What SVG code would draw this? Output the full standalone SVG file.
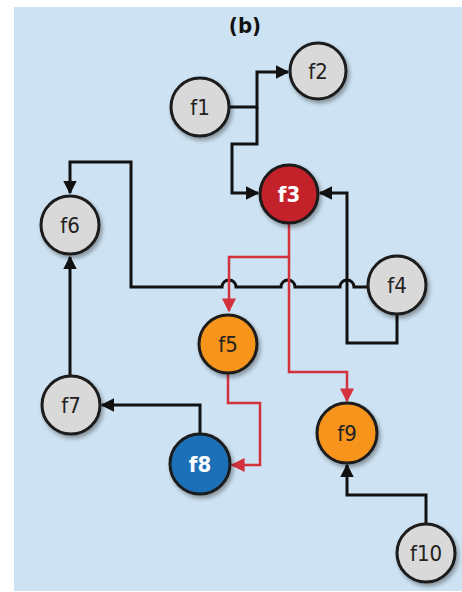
<svg xmlns="http://www.w3.org/2000/svg" width="462" height="592" viewBox="0 0 462 592">
<defs>
<marker id="ab" viewBox="0 0 10 10" refX="9" refY="5" markerWidth="4.6" markerHeight="4.6" orient="auto" markerUnits="strokeWidth"><path d="M0,0 L10,5 L0,10 z" fill="#111"/></marker>
<marker id="ar" viewBox="0 0 10 10" refX="9" refY="5" markerWidth="5.6" markerHeight="5.6" orient="auto" markerUnits="strokeWidth"><path d="M0,0 L10,5 L0,10 z" fill="#d3323d"/></marker>
<filter id="sh" x="-30%" y="-30%" width="160%" height="160%"><feGaussianBlur in="SourceAlpha" stdDeviation="2"/><feOffset dx="2" dy="3"/><feComponentTransfer><feFuncA type="linear" slope="0.35"/></feComponentTransfer><feMerge><feMergeNode/><feMergeNode in="SourceGraphic"/></feMerge></filter>
</defs>
<style>
.n circle{stroke:#1a1a1a;stroke-width:3;filter:url(#sh)}
.g circle{fill:#d9d9d9}
.t{font-family:"DejaVu Sans Condensed","Liberation Sans",sans-serif;font-size:22px;text-anchor:middle;dominant-baseline:central;fill:#222}
.w{fill:#fff}
.k{fill:none;stroke:#111;stroke-width:3}
.r{fill:none;stroke:#d3323d;stroke-width:2.5}
</style>
<rect x="14" y="7" width="448" height="584" fill="#cde2f2"/>
<text x="245" y="25" font-family="DejaVu Sans Condensed,Liberation Sans,sans-serif" font-size="22" font-weight="bold" text-anchor="middle" dominant-baseline="central" fill="#111">(b)</text>
<g id="connectors">
<path class="k" d="M230,107 H257 V72 H288" marker-end="url(#ab)"/>
<path class="k" d="M257,107 V144 H232 V193 H258" marker-end="url(#ab)"/>
<path class="k" d="M397,313 V343 H347 V193 H320" marker-end="url(#ab)"/>
<path class="k" d="M367,287 H354 A7,7 0 0 0 340,287 H295 A7,7 0 0 0 281,287 H236 A7,7 0 0 0 222,287 H131 V162 H70 V193" marker-end="url(#ab)"/>
<path class="k" d="M70,375 V257" marker-end="url(#ab)"/>
<path class="k" d="M200,433 V405 H102" marker-end="url(#ab)"/>
<path class="k" d="M426,523 V495 H347 V465" marker-end="url(#ab)"/>
<path class="r" d="M289,223 V257 H229 V311" marker-end="url(#ar)"/>
<path class="r" d="M289,257 V372 H347 V401" marker-end="url(#ar)"/>
<path class="r" d="M228,374 V403 H260 V465 H232" marker-end="url(#ar)"/>
</g>
<g id="f1" class="n g"><circle cx="200" cy="107" r="29"/><text class="t" x="200" y="107">f1</text></g>
<g id="f2" class="n g"><circle cx="318" cy="71" r="28"/><text class="t" x="318" y="71">f2</text></g>
<g id="f3" class="n"><circle cx="289" cy="194" r="29" fill="#c4202b"/><text class="t w" x="289" y="194" font-weight="bold">f3</text></g>
<g id="f4" class="n g"><circle cx="397" cy="285" r="29"/><text class="t" x="397" y="285">f4</text></g>
<g id="f5" class="n"><circle cx="228" cy="344" r="29" fill="#f7941d"/><text class="t" x="228" y="344">f5</text></g>
<g id="f6" class="n g"><circle cx="70" cy="225" r="29"/><text class="t" x="70" y="225">f6</text></g>
<g id="f7" class="n g"><circle cx="71" cy="405" r="29"/><text class="t" x="71" y="405">f7</text></g>
<g id="f8" class="n"><circle cx="200" cy="464" r="30" fill="#1f70b8"/><text class="t w" x="200" y="464" font-weight="bold">f8</text></g>
<g id="f9" class="n"><circle cx="347" cy="433" r="30" fill="#f7941d"/><text class="t" x="347" y="433">f9</text></g>
<g id="f10" class="n g"><circle cx="426" cy="553" r="29"/><text class="t" x="426" y="553">f10</text></g>
</svg>
